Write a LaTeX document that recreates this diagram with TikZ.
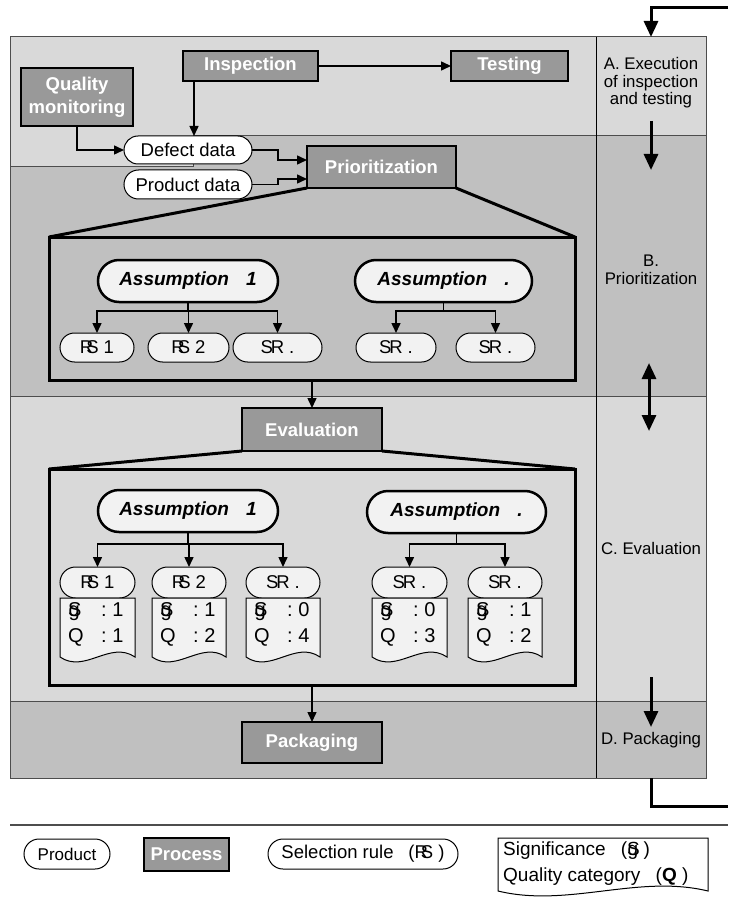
\documentclass[tikz,border=0pt]{standalone}
\usepackage{fontspec}
\setmainfont{Liberation Sans}
\usetikzlibrary{arrows.meta,shapes.misc}
\definecolor{bandlight}{HTML}{D9D9D9}
\definecolor{banddark}{HTML}{C0C0C0}
\definecolor{procgray}{HTML}{999999}
\definecolor{pillgray}{HTML}{F2F2F2}
\definecolor{rulegray}{HTML}{4D4D4D}
\newcommand{\rsmark}{R\kern-.38em S}
\newcommand{\srmark}{S\kern-.12em R}
\newcommand{\sgmark}{\rlap{S}\kern.5pt g}
\newcommand{\docpath}[5][]{\draw[#1] ({#2-#3/2},#4) -- ({#2+#3/2},#4) -- ({#2+#3/2},#5) .. controls ({#2+#3/6},{#5-17}) and ({#2-#3/6},{#5+17}) .. ({#2-#3/2},#5) -- cycle;}

\begin{document}
\begin{tikzpicture}[x=1pt,y=-1pt,
  >={Triangle[length=10pt,width=9pt]},
  process/.style={draw,fill=procgray,text=white,font=\fontsize{18.5}{23}\selectfont\bfseries,line width=1.5pt,inner sep=0pt,outer sep=0pt,align=center},
  product/.style={draw,rounded rectangle,fill=white,font=\fontsize{18.5}{22}\selectfont,line width=1pt,inner sep=0pt,outer sep=0pt},
  assume/.style={draw,rounded rectangle,fill=pillgray,font=\fontsize{19}{22}\selectfont\bfseries\itshape,line width=2.5pt,minimum height=42pt,inner sep=0pt,outer sep=0pt},
  rulepill/.style={draw,rounded rectangle,fill=pillgray,font=\fontsize{18.5}{22}\selectfont,line width=1pt,inner sep=0pt,outer sep=0pt},
  zoomframe/.style={draw,line width=3pt,inner sep=0pt,outer sep=0pt},
  flow/.style={->,line width=1.5pt},
  bigflow/.style={line width=3pt,-{Triangle[length=16pt,width=14pt]}},
  band/.style={draw=rulegray,line width=1pt},
  phase/.style={font=\fontsize{16.8}{17.5}\selectfont,align=center},
  doctext/.style={font=\fontsize{20}{26}\selectfont,inner sep=0pt,anchor=north west,align=left}
]
\useasboundingbox (0,0) rectangle (728,901);
\filldraw[band,fill=bandlight] (10,37) -- (706,37) -- (706,136) -- (193,136) -- (193,167) -- (10,167) -- cycle;
\filldraw[band,fill=banddark] (10,167) -- (193,167) -- (193,136) -- (706,136) -- (706,396) -- (10,396) -- cycle;
\filldraw[band,fill=bandlight] (10,396) rectangle (706,701);
\filldraw[band,fill=banddark] (10,701) rectangle (706,778);
\draw[black,line width=1pt] (596,37) -- (596,778);

\node[phase] (phA) at (651,83) {A. Execution\\of inspection\\and testing};
\node[phase] (phB) at (651,270) {B.\\Prioritization};
\node[phase] (phC) at (651,548) {C. Evaluation};
\node[phase] (phD) at (651,740) {D. Packaging};
\coordinate (inA) at (728,8);
\coordinate (topA) at (651,37);
\coordinate (abTop) at (651,121);
\coordinate (abTip) at (651,170);
\coordinate (bcTop) at (649,363);
\coordinate (bcTip) at (649,431);
\coordinate (cdTop) at (651,677);
\coordinate (cdTip) at (651,727);
\coordinate (outD) at (651,778);
\coordinate (exitD) at (728,806);
\draw[bigflow] (inA) -| (topA);
\draw[bigflow] (abTop) -- (abTip);
\draw[bigflow,{Triangle[length=16pt,width=14pt]}-{Triangle[length=16pt,width=14pt]}] (bcTop) -- (bcTip);
\draw[bigflow] (cdTop) -- (cdTip);
\draw[line width=3pt] (outD) |- (exitD);

\node[process,minimum width=112pt,minimum height=58pt] (qm) at (77,97) {Quality\\monitoring};
\node[process,minimum width=135pt,minimum height=30pt] (insp) at (250.5,66) {Inspection};
\node[process,minimum width=117pt,minimum height=30pt] (test) at (509.5,66) {Testing};
\node[product,minimum width=128pt,minimum height=28pt] (defect) at (188,150) {Defect data};
\node[product,minimum width=128pt,minimum height=29pt] (proddata) at (188,184.5) {Product data};
\node[process,minimum width=149pt,minimum height=42pt] (prio) at (381.5,167) {Prioritization};
\draw[flow] (insp) -- (test);
\draw[flow] ([xshift=6pt]defect.north |- insp.south) -- ([xshift=6pt]defect.north);
\draw[flow] (qm.south) |- (defect.west);
\draw[flow] (defect.east) -- ++(26,0) |- ([yshift=7pt]prio.west);
\draw[flow] (proddata.east) -- ++(26,0) |- ([yshift=-12pt]prio.west);

\node[zoomframe,minimum width=526pt,minimum height=143pt] (boxB) at (312,308.5) {};
\draw[line width=3pt] (prio.south west) -- (boxB.north west) (prio.south east) -- (boxB.north east);
\node[assume,minimum width=180pt] (aB1) at (188,281) {Assumption\hspace{0.9em}1};
\node[assume,minimum width=177pt] (aB2) at (443.5,281) {Assumption\hspace{0.9em}.};
\foreach \n/\x/\w/\t in {rB1/97/74/{\rsmark~1},rB2/188.5/81/{\rsmark~2},rB3/277.5/89/{\srmark~.},rB4/396/80/{\srmark~.},rB5/495.5/79/{\srmark~.}}
  \node[rulepill,minimum width=\w pt,minimum height=29pt] (\n) at (\x,347.5) {\t};
\foreach \c in {rB1,rB2,rB3} \draw[flow] (aB1.south) -- ++(0,9) -| (\c.north);
\foreach \c in {rB4,rB5} \draw[flow] (aB2.south) -- ++(0,9) -| (\c.north);

\node[process,minimum width=140pt,minimum height=43pt] (eval) at (312,429.5) {Evaluation};
\draw[flow] (boxB) -- (eval);
\node[zoomframe,minimum width=526pt,minimum height=216pt] (boxC) at (312,577) {};
\draw[line width=3pt] (eval.south west) -- (boxC.north west) (eval.south east) -- (boxC.north east);
\node[assume,minimum width=180pt] (aC1) at (188,511) {Assumption\hspace{0.9em}1};
\node[assume,minimum width=179pt] (aC2) at (456.5,512) {Assumption\hspace{0.9em}.};
\foreach \n/\x/\w/\t/\s/\q in {rC1/97.5/75/{\rsmark~1}/1/1,rC2/189/74/{\rsmark~2}/1/2,rC3/283/74/{\srmark~.}/0/4,rC4/409.5/75/{\srmark~.}/0/3,rC5/505/74/{\srmark~.}/1/2}{
  \node[rulepill,minimum width=\w pt,minimum height=31pt] (\n) at (\x,582.5) {\t};
  \docpath[line width=1pt,fill=pillgray]{\x}{\w}{598}{657}
  \node[doctext] (d\n) at ({\x-\w/2+8},602) {\makebox[33pt][l]{\sgmark}:\ \s\\\makebox[33pt][l]{Q}:\ \q};
}
\foreach \c in {rC1,rC2,rC3} \draw[flow] (aC1.south) -- ++(0,12) -| (\c.north);
\foreach \c in {rC4,rC5} \draw[flow] (aC2.south) -- ++(0,11) -| (\c.north);

\node[process,minimum width=140pt,minimum height=41pt] (pack) at (312,742.5) {Packaging};
\draw[flow] (boxC) -- (pack);

\draw[rulegray,line width=1.5pt] (10,825) -- (728,825);
\node[product,minimum width=86pt,minimum height=30pt,font=\fontsize{17}{20}\selectfont] (lgprod) at (67,854) {Product};
\node[process,minimum width=85pt,minimum height=33pt] (lgproc) at (186.5,854.5) {Process};
\node[product,minimum width=190pt,minimum height=30pt] (lgrule) at (363,854) {Selection rule\hspace{0.8em}(\rsmark\ )};
\docpath[line width=1pt,fill=white]{603}{210}{838}{891}
\node[doctext,font=\fontsize{19}{26}\selectfont] (lgdoc) at (503,842) {Significance\hspace{0.8em}(\sgmark\ )\\Quality category\hspace{0.8em}(\textbf{Q}\ )};
\end{tikzpicture}
\end{document}
